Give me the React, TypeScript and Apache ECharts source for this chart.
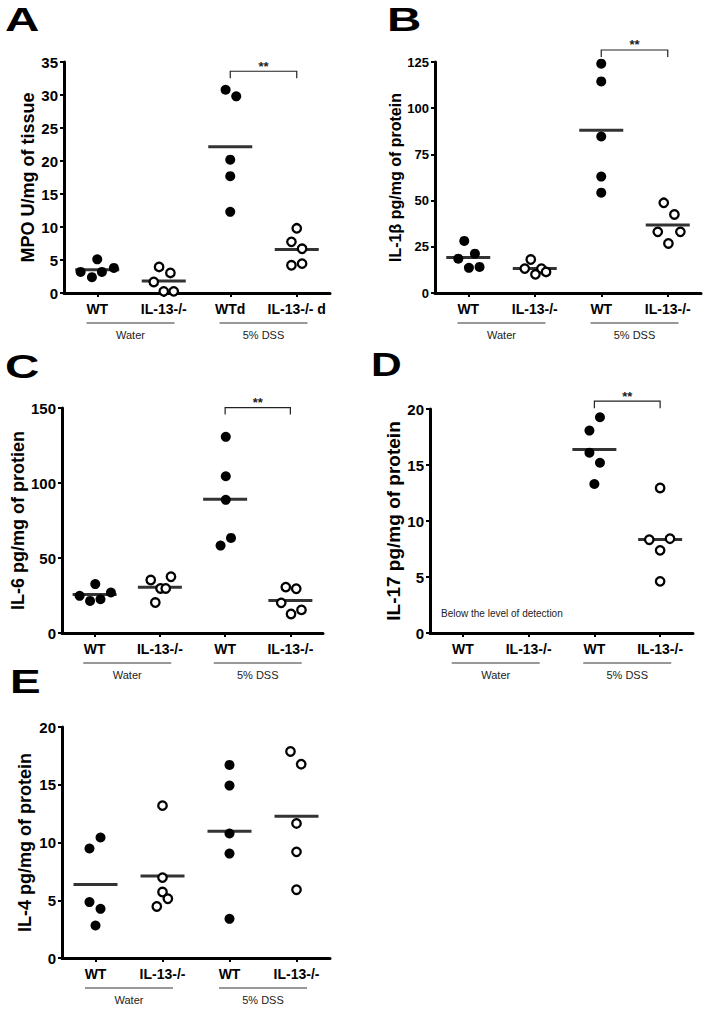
import React, { useEffect, useRef } from "react";
import * as echarts from "echarts";

// ---------- data ----------
const categories = ["WT", "IL-13-/-", "WT", "IL-13-/-"];
const categoriesA = ["WT", "IL-13-/-", "WTd", "IL-13-/- d"];
const groupLabels = ["Water", "5% DSS"];
const groupCentres = [0.5, 2.5];

// A: MPO U/mg of tissue
const mpoValues = [
  [3.2, 2.4, 5.1, 3.2, 3.8],
  [3.95, 3.04, 1.67, 0.25, 0.25],
  [30.8, 29.8, 20.2, 17.7, 12.3],
  [9.8, 7.75, 6.7, 4.2, 4.45],
];
const mpoJitter = [
  [-0.25, -0.08, 0, 0.07, 0.25],
  [-0.07, 0.1, -0.15, 0, 0.15],
  [-0.07, 0.09, 0, 0, 0],
  [0, -0.08, 0.08, -0.08, 0.08],
];

// B: IL-1β pg/mg of protein
const il1bValues = [
  [28.2, 21.3, 18.6, 13.6, 14.1],
  [18.1, 13.2, 13.2, 10.1, 11.4],
  [124.1, 114.5, 84.7, 63.0, 54.3],
  [48.8, 42.5, 33.1, 33.1, 26.8],
];
const il1bJitter = [
  [-0.06, 0.1, -0.15, 0.01, 0.17],
  [-0.06, -0.15, 0.1, 0.01, 0.17],
  [0, 0, 0, 0, 0],
  [-0.06, 0.1, -0.15, 0.19, 0.01],
];

// C: IL-6 pg/mg of protien
const il6Values = [
  [32.6, 24.8, 21.4, 22.5, 27.0],
  [35.3, 29.7, 29.7, 37.5, 20.3],
  [130.8, 104.5, 88.8, 63.4, 58.3],
  [30.6, 29.5, 20.1, 12.7, 15.4],
];
const il6Jitter = [
  [0.01, -0.23, -0.07, 0.09, 0.25],
  [-0.14, 0.01, 0.09, 0.17, -0.07],
  [0.01, 0.01, 0.01, 0.09, -0.07],
  [-0.07, 0.09, -0.14, 0.01, 0.17],
];

// D: IL-17 pg/mg of protein (water groups below detection)
const il17Values = [
  [],
  [],
  [19.26, 18.07, 16.1, 15.2, 13.3],
  [12.95, 8.33, 8.42, 7.38, 4.61],
];
const il17Jitter = [
  [],
  [],
  [0.085, -0.075, -0.075, 0.085, 0],
  [0, -0.165, 0.15, 0, 0],
];

// E: IL-4 pg/mg of protein
const il4Values = [
  [9.48, 10.43, 4.84, 4.26, 2.81],
  [13.19, 6.96, 5.71, 5.13, 4.46],
  [16.72, 14.93, 10.78, 9.04, 3.39],
  [17.88, 16.78, 11.65, 9.19, 5.91],
];
const il4Jitter = [
  [-0.09, 0.075, -0.09, 0.075, 0],
  [0, 0, 0, 0.08, -0.085],
  [0, 0, 0, 0, 0],
  [-0.09, 0.07, 0, 0, 0],
];

const yMaxes = [35, 125, 150, 20, 20];
const ySteps = [5, 25, 50, 5, 5];
const yNames = [
  "MPO U/mg of tissue",
  "IL-1β pg/mg of protein",
  "IL-6 pg/mg of protien",
  "IL-17 pg/mg of protein",
  "IL-4 pg/mg of protein",
];
const letters = ["A", "B", "C", "D", "E"];
const sigLevels = [33.6, 131.5, 150.3, 20.7, null];
const belowDetectionText = "Below the level of detection";

const panelValues = [mpoValues, il1bValues, il6Values, il17Values, il4Values];
const panelJitter = [mpoJitter, il1bJitter, il6Jitter, il17Jitter, il4Jitter];
const panelCats = [categoriesA, categories, categories, categories, categories];

// ---------- layout / style ----------
const layout = [
  { left: 64, top: 62, width: 266, height: 231, lx: 5, ly: 2, ls: 1.4, gap: 26, nameSize: 18, tickSize: 15 },
  { left: 435, top: 62, width: 266, height: 231, lx: 387, ly: 2, ls: 1.4, gap: 30, nameSize: 16, tickSize: 13 },
  { left: 62, top: 408, width: 261, height: 225, lx: 5, ly: 349, ls: 1.4, gap: 28, nameSize: 18, tickSize: 15 },
  { left: 430, top: 409, width: 263, height: 224, lx: 371, ly: 347, ls: 1.25, gap: 24, nameSize: 19, tickSize: 15 },
  { left: 62, top: 727, width: 268, height: 231, lx: 10, ly: 664, ls: 1.35, gap: 28, nameSize: 18, tickSize: 15 },
];

const FONT = "'Liberation Sans', Arial, Helvetica, sans-serif";

function mean(a: number[]) {
  return a.reduce((s, v) => s + v, 0) / a.length;
}

function buildOption() {
  const grid: any[] = [];
  const xAxis: any[] = [];
  const yAxis: any[] = [];
  const series: any[] = [];
  const graphic: any[] = [];

  layout.forEach((L, p) => {
    grid.push({ left: L.left, top: L.top, width: L.width, height: L.height, containLabel: false });
    // visible category axis
    xAxis.push({
      type: "category",
      gridIndex: p,
      data: panelCats[p],
      boundaryGap: true,
      axisLine: { show: true, onZero: false, lineStyle: { color: "#000", width: 3 } },
      axisTick: { show: true, alignWithLabel: true, length: 4, lineStyle: { color: "#000", width: 2 } },
      axisLabel: { interval: 0, margin: 9, color: "#000", fontSize: 14, fontWeight: "bold", fontFamily: FONT },
      splitLine: { show: false },
    });
    // hidden value axis for jittered points
    xAxis.push({
      type: "value",
      gridIndex: p,
      min: -0.5,
      max: 3.5,
      show: false,
      splitLine: { show: false },
    });
    yAxis.push({
      type: "value",
      gridIndex: p,
      min: 0,
      max: yMaxes[p],
      interval: ySteps[p],
      name: yNames[p],
      nameLocation: "middle",
      nameRotate: 90,
      nameGap: L.gap,
      nameTextStyle: { fontSize: L.nameSize, fontWeight: "bold", color: "#000", fontFamily: FONT },
      axisLine: { show: true, onZero: false, lineStyle: { color: "#000", width: 3 } },
      axisTick: { show: true, length: 4, lineStyle: { color: "#000", width: 2 } },
      axisLabel: { margin: 6, color: "#000", fontSize: L.tickSize, fontWeight: "bold", fontFamily: FONT },
      splitLine: { show: false },
    });

    const xi = p * 2 + 1;
    const vals = panelValues[p];
    const jit = panelJitter[p];
    const filled: number[][] = [];
    const open: number[][] = [];
    const means: number[][] = [];
    vals.forEach((g, gi) => {
      g.forEach((v, k) => {
        const pt = [gi + jit[gi][k], v];
        if (gi % 2 === 0) filled.push(pt);
        else open.push(pt);
      });
      if (g.length) means.push([gi, mean(g)]);
    });

    series.push({
      type: "scatter",
      xAxisIndex: xi,
      yAxisIndex: p,
      data: means,
      symbol: "rect",
      symbolSize: [44, 3],
      itemStyle: { color: "#000" },
      silent: true,
      z: 3,
    });
    series.push({
      type: "scatter",
      xAxisIndex: xi,
      yAxisIndex: p,
      data: filled,
      symbol: "circle",
      symbolSize: 10,
      itemStyle: { color: "#000", opacity: 1 },
      z: 4,
    });
    series.push({
      type: "scatter",
      xAxisIndex: xi,
      yAxisIndex: p,
      data: open,
      symbol: "circle",
      symbolSize: 8.5,
      itemStyle: { color: "#fff", borderColor: "#000", borderWidth: 2.3, opacity: 1 },
      z: 4,
    });

    // group labels under axis
    series.push({
      type: "custom",
      xAxisIndex: xi,
      yAxisIndex: p,
      clip: false,
      silent: true,
      data: groupCentres.map((c) => [c, 0]),
      renderItem: (params: any, api: any) => {
        const pt = api.coord([api.value(0), 0]);
        return {
          type: "group",
          children: [
            {
              type: "line",
              shape: { x1: pt[0] - 44, y1: pt[1] + 30, x2: pt[0] + 44, y2: pt[1] + 30 },
              style: { stroke: "#333", lineWidth: 1 },
            },
            {
              type: "text",
              x: pt[0],
              y: pt[1] + 42,
              style: {
                text: groupLabels[params.dataIndex],
                align: "center",
                verticalAlign: "middle",
                fontSize: 11,
                fontFamily: FONT,
                fill: "#222",
              },
            },
          ],
        };
      },
    });

    const sig = sigLevels[p];
    if (sig != null) {
      series.push({
        type: "custom",
        xAxisIndex: xi,
        yAxisIndex: p,
        clip: false,
        silent: true,
        data: [[2, sig, 3]],
        renderItem: (params: any, api: any) => {
          const a = api.coord([api.value(0), api.value(1)]);
          const b = api.coord([api.value(2), api.value(1)]);
          return {
            type: "group",
            children: [
              {
                type: "polyline",
                shape: { points: [[a[0], a[1] + 7], [a[0], a[1]], [b[0], b[1]], [b[0], b[1] + 7]] },
                style: { stroke: "#222", lineWidth: 1.2, fill: null },
              },
              {
                type: "text",
                x: (a[0] + b[0]) / 2,
                y: a[1] - 5,
                style: {
                  text: "**",
                  align: "center",
                  verticalAlign: "middle",
                  fontSize: 13,
                  fontWeight: "bold",
                  fontFamily: FONT,
                  fill: "#222",
                },
              },
            ],
          };
        },
      });
    }

    graphic.push({
      type: "text",
      x: L.lx,
      y: L.ly,
      scaleX: L.ls,
      style: {
        text: letters[p],
        fontSize: 34,
        fontWeight: "bold",
        fontFamily: FONT,
        fill: "#000",
        align: "left",
        verticalAlign: "top",
      },
    });
  });

  graphic.push({
    type: "text",
    x: 441,
    y: 608,
    style: { text: belowDetectionText, fontSize: 10, fontFamily: FONT, fill: "#222", align: "left", verticalAlign: "top" },
  });

  return {
    animation: false,
    backgroundColor: "#fff",
    grid,
    xAxis,
    yAxis,
    series,
    graphic,
  };
}

export default function App() {
  const ref = useRef<HTMLDivElement>(null);
  useEffect(() => {
    document.body.style.margin = "0";
    const chart = echarts.init(ref.current!, undefined, { renderer: "svg" });
    chart.setOption(buildOption() as any);
    return () => chart.dispose();
  }, []);
  return <div ref={ref} style={{ width: 708, height: 1010 }} />;
}
